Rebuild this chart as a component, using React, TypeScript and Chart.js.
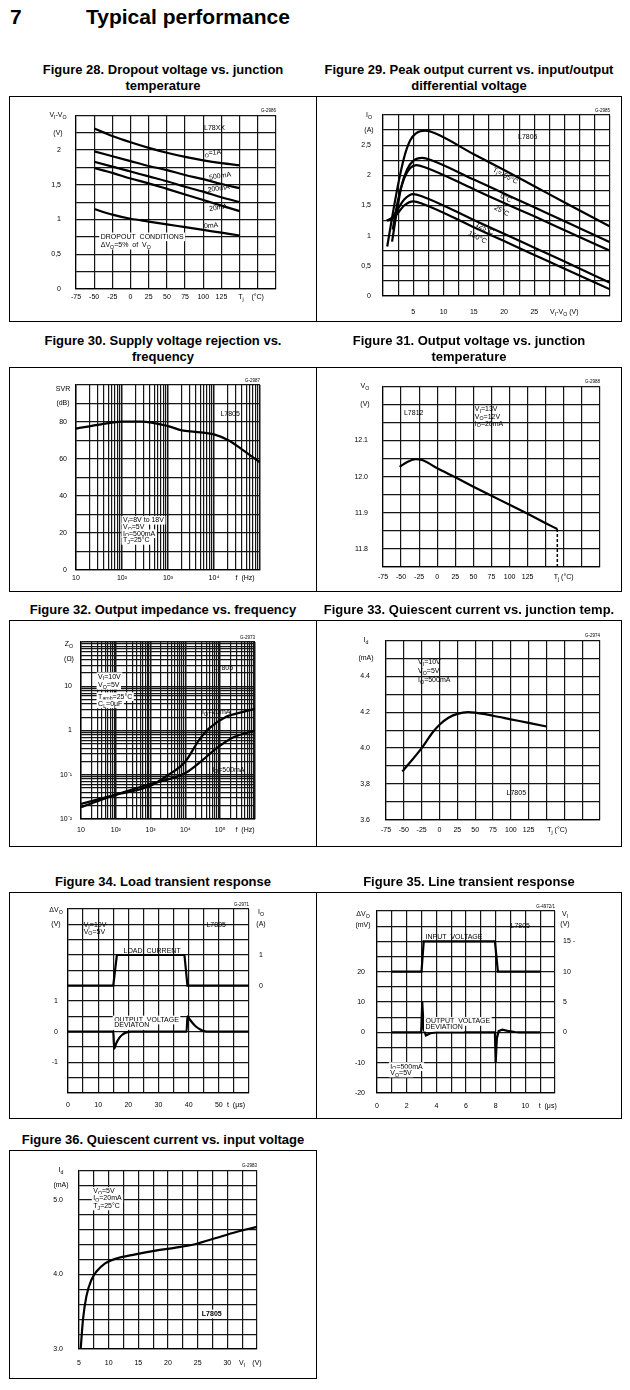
import React, { useEffect, useRef } from 'react';
import { Chart, registerables } from 'chart.js';

Chart.register(...registerables);

const TEXT_FONT = "'Liberation Sans', Arial, Helvetica, sans-serif";
const FS = 7;

// ---------------- Figure 28: dropout voltage vs junction temperature ----------------
const fig28Temp = [-50, -25, 0, 25, 50, 75, 100, 125, 150];
const fig28Io1A = [2.31, 2.2, 2.11, 2.03, 1.96, 1.9, 1.85, 1.81, 1.78];
const fig28Io500mA = [1.98, 1.91, 1.84, 1.77, 1.71, 1.64, 1.58, 1.51, 1.45];
const fig28Io200mA = [1.83, 1.76, 1.69, 1.62, 1.55, 1.47, 1.4, 1.32, 1.25];
const fig28Io20mA = [1.74, 1.67, 1.59, 1.52, 1.44, 1.36, 1.28, 1.2, 1.12];
const fig28Io0mA = [1.15, 1.07, 1.01, 0.97, 0.93, 0.89, 0.85, 0.81, 0.77];

// ---------------- Figure 29: peak output current ----------------
const fig29Tm55V = [0.7, 1.5, 2.5, 3.5, 4.5, 5.5, 7, 8.5, 15, 20, 25, 30, 37.5];
const fig29Tm55I = [0.82, 1.3, 1.85, 2.3, 2.58, 2.7, 2.74, 2.7, 2.35, 2.09, 1.82, 1.55, 1.15];
const fig29T0V = [1.5, 2.2, 3, 4, 5, 6.5, 8, 15, 20, 25, 30, 37.5];
const fig29T0I = [0.9, 1.35, 1.8, 2.1, 2.24, 2.29, 2.25, 1.93, 1.7, 1.47, 1.24, 0.89];
const fig29T25V = [1.6, 2.5, 3.5, 4.5, 5.5, 7, 15, 20, 25, 30, 37.5];
const fig29T25I = [1.1, 1.6, 1.95, 2.12, 2.17, 2.13, 1.77, 1.54, 1.32, 1.09, 0.75];
const fig29T125V = [0.65, 1.5, 2.5, 3.5, 5, 6.5, 15, 20, 25, 30, 37.5];
const fig29T125I = [1.25, 1.3, 1.45, 1.6, 1.69, 1.65, 1.26, 1.03, 0.8, 0.57, 0.22];
const fig29T150V = [0.65, 1.5, 2.5, 3.5, 5, 6.5, 15, 20, 25, 30, 37.5];
const fig29T150I = [1.25, 1.28, 1.38, 1.5, 1.57, 1.53, 1.14, 0.91, 0.68, 0.45, 0.11];

// ---------------- Figure 30: SVR vs frequency ----------------
const fig30Freq = [10, 35, 100, 265, 1000, 2000, 3900, 10000, 21000, 41000, 100000];
const fig30Svr = [76.4, 78.7, 80.2, 80.2, 77.8, 75.5, 74.7, 73.3, 70, 65.1, 58.2];

// ---------------- Figure 31: output voltage vs temperature ----------------
const fig31Temp = [-52, -40, -30, -20, 0, 25, 50, 75, 100, 125, 150, 166];
const fig31Vo = [12.027, 12.042, 12.048, 12.045, 12.023, 11.998, 11.972, 11.947, 11.922, 11.897, 11.871, 11.855];
const fig31DashTemp = [166, 166];
const fig31DashVo = [11.855, 11.75];

// ---------------- Figure 32: output impedance ----------------
const fig32Freq20mA = [10, 96, 870, 3300, 10000, 24000, 47000, 140000, 430000, 1000000];
const fig32Z20mA = [0.022, 0.035, 0.054, 0.1, 0.2, 0.59, 1.1, 2.0, 2.6, 3.1];
const fig32Freq500mA = [10, 96, 870, 10000, 28000, 83000, 250000, 1000000];
const fig32Z500mA = [0.0185, 0.035, 0.06, 0.11, 0.2, 0.41, 0.71, 1.0];

// ---------------- Figure 33: quiescent current vs temperature ----------------
const fig33Temp = [-52, -25, -10, 0, 12, 25, 40, 50, 75, 100, 125, 150];
const fig33Id = [3.87, 4.0, 4.085, 4.13, 4.167, 4.19, 4.2, 4.197, 4.18, 4.16, 4.14, 4.12];

// ---------------- Figure 34: load transient ----------------
const fig34LoadT = [0, 15, 16.2, 38.6, 39.6, 60];
const fig34LoadI = [0, 0, 1, 1, 0, 0];
const fig34DevT = [0, 15, 15.3, 16, 17, 18, 19, 21, 39.3, 39.6, 40.5, 41.5, 42.5, 43.5, 44.5, 46, 60];
const fig34DevV = [0, 0, -0.55, -0.38, -0.2, -0.1, -0.04, 0, 0, 0.5, 0.38, 0.26, 0.16, 0.09, 0.04, 0, 0];

// ---------------- Figure 35: line transient ----------------
const fig35InT = [1, 3, 3.15, 7.95, 8.15, 11];
const fig35InV = [10, 10, 15, 15, 10, 10];
const fig35DevT = [1, 2.98, 3.05, 3.15, 3.3, 3.6, 4, 7.95, 8.0, 8.08, 8.2, 8.45, 8.8, 9.3, 9.6, 11];
const fig35DevV = [0, 0, 10, 1, -1, -0.3, 0, 0, -10, -2, 0.4, 0.9, 0.5, 0.1, 0, 0];

// ---------------- Figure 36: quiescent current vs input voltage ----------------
const fig36Vi = [5.28, 5.68, 6.25, 7.1, 7.95, 9.4, 11.1, 14.5, 17.9, 21.3, 24.7, 28.1, 31.5, 35];
const fig36Id = [3.0, 3.4, 3.71, 3.93, 4.04, 4.15, 4.21, 4.27, 4.32, 4.36, 4.41, 4.49, 4.57, 4.64];

// ---------------- tick labels ----------------
type Labels = Array<[number, string]>;
const tempLabels: Labels = [[-75, '-75'], [-50, '-50'], [-25, '-25'], [0, '0'], [25, '25'], [50, '50'], [75, '75'], [100, '100'], [125, '125']];
const fig28YLabels: Labels = [[0, '0'], [0.5, '0,5'], [1, '1'], [1.5, '1,5'], [2, '2']];
const fig29XLabels: Labels = [[5, '5'], [10, '10'], [15, '15'], [20, '20'], [25, '25']];
const fig29YLabels: Labels = [[0, '0'], [0.5, '0,5'], [1, '1'], [1.5, '1,5'], [2, '2'], [2.5, '2,5']];
const fig30XLabels: Labels = [[10, '10'], [100, '10²'], [1000, '10³'], [10000, '10⁴']];
const fig30YLabels: Labels = [[0, '0'], [20, '20'], [40, '40'], [60, '60'], [80, '80']];
const fig31YLabels: Labels = [[11.8, '11.8'], [11.9, '11.9'], [12.0, '12.0'], [12.1, '12.1']];
const fig32XLabels: Labels = [[10, '10'], [100, '10²'], [1000, '10³'], [10000, '10⁴'], [100000, '10⁵']];
const fig32YLabels: Labels = [[0.01, '10⁻²'], [0.1, '10⁻¹'], [1, '1'], [10, '10']];
const fig33YLabels: Labels = [[3.6, '3.6'], [3.8, '3,8'], [4.0, '4.0'], [4.2, '4.2'], [4.4, '4.4']];
const fig34XLabels: Labels = [[0, '0'], [10, '10'], [20, '20'], [30, '30'], [40, '40'], [50, '50']];
const fig34YLabels: Labels = [[-1, '-1'], [0, '0'], [1, '1']];
const fig34Y2Labels: Labels = [[0, '0'], [1, '1']];
const fig35XLabels: Labels = [[0, '0'], [2, '2'], [4, '4'], [6, '6'], [8, '8'], [10, '10']];
const fig35YLabels: Labels = [[-20, '-20'], [-10, '-10'], [0, '0'], [10, '10'], [20, '20']];
const fig35Y2Labels: Labels = [[0, '0'], [5, '5'], [10, '10'], [15, '15 -']];
const fig36XLabels: Labels = [[5, '5'], [10, '10'], [15, '15'], [20, '20'], [25, '25'], [30, '30']];
const fig36YLabels: Labels = [[3, '3.0'], [4, '4.0'], [5, '5.0']];

// ---------------- types ----------------
type Axis = { type: 'linear' | 'logarithmic'; min: number; max: number; step?: number; labels: Labels; pad: number };
type Series = { x: number[]; y: number[]; axis?: 'y' | 'y2'; smooth?: boolean; dash?: number[]; width?: number };
type Note = {
  text: string; x?: number; y?: number; ax?: 'l' | 'r'; ay?: 'b' | 't'; dx?: number; dy?: number;
  align?: 'left' | 'center' | 'right'; rot?: number; bg?: boolean; bold?: boolean; size?: number; axis?: 'y' | 'y2';
};
type Spec = {
  caption: string[]; left: number; top: number; width: number; height: number;
  plot: [number, number, number, number];
  x: Axis; y: Axis; y2?: Axis; series: Series[]; notes: Note[]; code: string;
};

// ---------------- annotations ----------------
const fig28Notes: Note[] = [
  { text: 'V_I-V_O', ax: 'l', dx: -18, y: 2.5 },
  { text: '(V)', ax: 'l', dx: -18, y: 2.25 },
  { text: 'T_j    (°C)', x: 148, ay: 'b', dy: 8, align: 'left' },
  { text: 'L78XX', x: 101, y: 2.32, align: 'left' },
  { text: 'I_O=1A', x: 99, y: 1.94, align: 'left', rot: -0.12 },
  { text: '500mA', x: 108, y: 1.6, align: 'left', rot: -0.15 },
  { text: '200mA', x: 106, y: 1.42, align: 'left', rot: -0.15 },
  { text: '20mA', x: 108, y: 1.15, align: 'left', rot: -0.15 },
  { text: '0mA', x: 101, y: 0.9, align: 'left', rot: -0.1 },
  { text: 'DROPOUT  CONDITIONS', x: -41, y: 0.75, align: 'left', bg: true },
  { text: 'ΔV_O=5%  of  V_O', x: -41, y: 0.63, align: 'left', bg: true },
];
const fig29Notes: Note[] = [
  { text: 'I_O', ax: 'l', dx: -14, y: 3.0 },
  { text: '(A)', ax: 'l', dx: -14, y: 2.75 },
  { text: 'V_I-V_O (V)', x: 27.6, ay: 'b', dy: 16, align: 'left' },
  { text: 'L7805', x: 22.3, y: 2.64, align: 'left' },
  { text: 'T_j=-55°C', x: 20.2, y: 1.99, rot: 0.48 },
  { text: '0°C', x: 20.3, y: 1.62, rot: 0.48 },
  { text: '25°C', x: 19.6, y: 1.41, rot: 0.48 },
  { text: '125°C', x: 16.8, y: 1.12, rot: 0.48 },
  { text: '150°C', x: 15.6, y: 0.97, rot: 0.48 },
];
const fig30Notes: Note[] = [
  { text: 'SVR', ax: 'l', dx: -13, y: 98 },
  { text: '(dB)', ax: 'l', dx: -13, y: 90 },
  { text: 'f  (Hz)', x: 29500, ay: 'b', dy: 8, align: 'left' },
  { text: 'L7805', x: 13800, y: 84.5, align: 'left' },
  { text: 'V_I=8V to 18V', x: 105, y: 26.9, align: 'left', bg: true },
  { text: 'V_O=5V', x: 105, y: 23.3, align: 'left', bg: true },
  { text: 'I_O=500mA', x: 105, y: 19.6, align: 'left', bg: true },
  { text: 'T_J=25°C', x: 105, y: 16, align: 'left', bg: true },
];
const fig31Notes: Note[] = [
  { text: 'V_O', ax: 'l', dx: -18, y: 12.25 },
  { text: '(V)', ax: 'l', dx: -18, y: 12.2 },
  { text: 'T_j (°C)', x: 161, ay: 'b', dy: 10, align: 'left' },
  { text: 'L7812', x: -46, y: 12.175, align: 'left' },
  { text: 'V_I=13V', x: 52, y: 12.186, align: 'left' },
  { text: 'V_O=12V', x: 52, y: 12.166, align: 'left' },
  { text: 'I_O=20mA', x: 52, y: 12.146, align: 'left' },
];
const fig32Notes: Note[] = [
  { text: 'Z_O', ax: 'l', dx: -12, y: 90 },
  { text: '(Ω)', ax: 'l', dx: -12, y: 42 },
  { text: 'f  (Hz)', x: 275000, ay: 'b', dy: 11, align: 'left' },
  { text: 'L7805', x: 65000, y: 26, align: 'left' },
  { text: 'I_O=20mA', x: 30000, y: 2.6, align: 'left' },
  { text: 'I_O=500mA', x: 59000, y: 0.13, align: 'left' },
  { text: 'V_I=10V', x: 31, y: 16.4, align: 'left', bg: true },
  { text: 'V_O=5V', x: 31, y: 10.5, align: 'left', bg: true },
  { text: 'T_{amb}=25°C', x: 31, y: 5.8, align: 'left', bg: true },
  { text: 'C_L=0μF', x: 31, y: 4, align: 'left', bg: true },
];
const fig33Notes: Note[] = [
  { text: 'I_d', ax: 'l', dx: -20, y: 4.6 },
  { text: '(mA)', ax: 'l', dx: -20, y: 4.5 },
  { text: 'T_j (°C)', x: 151, ay: 'b', dy: 10, align: 'left' },
  { text: 'V_I=10V', x: -30, y: 4.479, align: 'left' },
  { text: 'V_O=5V', x: -30, y: 4.429, align: 'left' },
  { text: 'I_O=500mA', x: -30, y: 4.378, align: 'left' },
  { text: 'L7805', x: 94, y: 3.75, align: 'left' },
];
const fig34Notes: Note[] = [
  { text: 'ΔV_O', ax: 'l', dx: -12, y: 3.95 },
  { text: '(V)', ax: 'l', dx: -12, y: 3.5 },
  { text: 'I_O', ax: 'r', dx: 12, y: 2.4, axis: 'y2' },
  { text: '(A)', ax: 'r', dx: 12, y: 2, axis: 'y2' },
  { text: 't  (μs)', x: 52.7, ay: 'b', dy: 12, align: 'left' },
  { text: 'V_I=10V', x: 5.2, y: 3.46, align: 'left' },
  { text: 'V_O=5V', x: 5.2, y: 3.26, align: 'left' },
  { text: 'L7805', x: 45.9, y: 3.46, align: 'left' },
  { text: 'LOAD  CURRENT', x: 18.4, y: 2.64, align: 'left' },
  { text: 'OUTPUT  VOLTAGE', x: 15.3, y: 0.38, align: 'left', bg: true },
  { text: 'DEVIATON', x: 15.3, y: 0.2, align: 'left', bg: true },
];
const fig35Notes: Note[] = [
  { text: 'ΔV_O', ax: 'l', dx: -14, y: 39 },
  { text: '(mV)', ax: 'l', dx: -14, y: 35.5 },
  { text: 'V_I', ax: 'r', dx: 10, y: 19.5, axis: 'y2' },
  { text: '(V)', ax: 'r', dx: 10, y: 17.8, axis: 'y2' },
  { text: 't  (μs)', x: 10.9, ay: 'b', dy: 13, align: 'left' },
  { text: 'INPUT  VOLTAGE', x: 3.27, y: 31.4, align: 'left' },
  { text: 'L7805', x: 9.0, y: 35, align: 'left' },
  { text: 'OUTPUT  VOLTAGE', x: 3.27, y: 3.6, align: 'left', bg: true },
  { text: 'DEVIATION', x: 3.27, y: 1.7, align: 'left', bg: true },
  { text: 'I_O=500mA', x: 0.9, y: -11.3, align: 'left', bg: true },
  { text: 'V_O=5V', x: 0.9, y: -13.4, align: 'left', bg: true },
];
const fig36Notes: Note[] = [
  { text: 'I_d', ax: 'l', dx: -18, y: 5.4 },
  { text: '(mA)', ax: 'l', dx: -18, y: 5.2 },
  { text: 'V_I', x: 32.5, ay: 'b', dy: 14 },
  { text: '(V)', x: 35, ay: 'b', dy: 14 },
  { text: 'V_O=5V', x: 7.4, y: 5.116, align: 'left', bg: true },
  { text: 'I_O=20mA', x: 7.4, y: 5.02, align: 'left', bg: true },
  { text: 'T_J=25°C', x: 7.4, y: 4.92, align: 'left', bg: true },
  { text: 'L7805', x: 25.7, y: 3.47, align: 'left', bg: true, bold: true },
];

// ---------------- panel specs ----------------
const L = { left: 9, width: 308 };
const R = { left: 316, width: 306 };

const specs: Spec[] = [
  {
    caption: ['Figure 28. Dropout voltage vs. junction', 'temperature'], ...L, top: 96, height: 226,
    plot: [67, 16, 267, 193],
    x: { type: 'linear', min: -75, max: 200, step: 25, labels: tempLabels, pad: 4 },
    y: { type: 'linear', min: 0, max: 2.5, step: 0.25, labels: fig28YLabels, pad: 15 },
    series: [
      { x: fig28Temp, y: fig28Io1A, smooth: true },
      { x: fig28Temp, y: fig28Io500mA, smooth: true },
      { x: fig28Temp, y: fig28Io200mA, smooth: true },
      { x: fig28Temp, y: fig28Io20mA, smooth: true },
      { x: fig28Temp, y: fig28Io0mA, smooth: true },
    ],
    notes: fig28Notes, code: 'G-2986',
  },
  {
    caption: ['Figure 29. Peak output current vs. input/output', 'differential voltage'], ...R, top: 96, height: 226,
    plot: [67, 19, 297, 200],
    x: { type: 'linear', min: 0, max: 37.5, step: 2.5, labels: fig29XLabels, pad: 12 },
    y: { type: 'linear', min: 0, max: 3, step: 0.25, labels: fig29YLabels, pad: 12 },
    series: [
      { x: fig29Tm55V, y: fig29Tm55I, smooth: true },
      { x: fig29T0V, y: fig29T0I, smooth: true },
      { x: fig29T25V, y: fig29T25I, smooth: true },
      { x: fig29T125V, y: fig29T125I, smooth: true },
      { x: fig29T150V, y: fig29T150I, smooth: true },
    ],
    notes: fig29Notes, code: 'G-2985',
  },
  {
    caption: ['Figure 30. Supply voltage rejection vs.', 'frequency'], ...L, top: 367, height: 225,
    plot: [67, 18, 251, 203],
    x: { type: 'logarithmic', min: 10, max: 100000, labels: fig30XLabels, pad: 4 },
    y: { type: 'linear', min: 0, max: 100, step: 10, labels: fig30YLabels, pad: 9 },
    series: [{ x: fig30Freq, y: fig30Svr, smooth: true }],
    notes: fig30Notes, code: 'G-2987',
  },
  {
    caption: ['Figure 31. Output voltage vs. junction', 'temperature'], ...R, top: 367, height: 225,
    plot: [67, 17, 284, 200],
    x: { type: 'linear', min: -75, max: 225, step: 25, labels: tempLabels, pad: 6 },
    y: { type: 'linear', min: 11.75, max: 12.25, step: 0.05, labels: fig31YLabels, pad: 15 },
    series: [
      { x: fig31Temp, y: fig31Vo, smooth: true },
      { x: fig31DashTemp, y: fig31DashVo, dash: [3, 2], width: 1.5 },
    ],
    notes: fig31Notes, code: 'G-2988',
  },
  {
    caption: ['Figure 32. Output impedance vs. frequency'], ...L, top: 620, height: 227,
    plot: [72, 22, 246, 199],
    x: { type: 'logarithmic', min: 10, max: 1000000, labels: fig32XLabels, pad: 7 },
    y: { type: 'logarithmic', min: 0.01, max: 100, labels: fig32YLabels, pad: 9 },
    series: [
      { x: fig32Freq20mA, y: fig32Z20mA, smooth: true },
      { x: fig32Freq500mA, y: fig32Z500mA, smooth: true },
    ],
    notes: fig32Notes, code: 'G-2973',
  },
  {
    caption: ['Figure 33. Quiescent current vs. junction temp.'], ...R, top: 620, height: 227,
    plot: [70, 17, 284, 200],
    x: { type: 'linear', min: -75, max: 225, step: 25, labels: tempLabels, pad: 6 },
    y: { type: 'linear', min: 3.6, max: 4.6, step: 0.1, labels: fig33YLabels, pad: 16 },
    series: [{ x: fig33Temp, y: fig33Id, smooth: true }],
    notes: fig33Notes, code: 'G-2974',
  },
  {
    caption: ['Figure 34. Load transient response'], ...L, top: 892, height: 227,
    plot: [59, 17, 240, 201],
    x: { type: 'linear', min: 0, max: 60, step: 5, labels: fig34XLabels, pad: 8 },
    y: { type: 'linear', min: -2, max: 4, step: 0.5, labels: fig34YLabels, pad: 10 },
    y2: { type: 'linear', min: -3.5, max: 2.5, step: 0.5, labels: fig34Y2Labels, pad: 10 },
    series: [
      { x: fig34LoadT, y: fig34LoadI, axis: 'y2' },
      { x: fig34DevT, y: fig34DevV, smooth: true },
    ],
    notes: fig34Notes, code: 'G-2971',
  },
  {
    caption: ['Figure 35. Line transient response'], ...R, top: 892, height: 227,
    plot: [61, 19, 239, 201],
    x: { type: 'linear', min: 0, max: 12, step: 1, labels: fig35XLabels, pad: 9 },
    y: { type: 'linear', min: -20, max: 40, step: 5, labels: fig35YLabels, pad: 12 },
    y2: { type: 'linear', min: -10, max: 20, step: 5, labels: fig35Y2Labels, pad: 8 },
    series: [
      { x: fig35InT, y: fig35InV, axis: 'y2' },
      { x: fig35DevT, y: fig35DevV },
    ],
    notes: fig35Notes, code: 'G-4972/1',
  },
  {
    caption: ['Figure 36. Quiescent current vs. input voltage'], ...L, top: 1150, height: 229,
    plot: [70, 16, 248, 199],
    x: { type: 'linear', min: 5, max: 35, step: 2.5, labels: fig36XLabels, pad: 10 },
    y: { type: 'linear', min: 3, max: 5.4, step: 0.2, labels: fig36YLabels, pad: 16 },
    series: [{ x: fig36Vi, y: fig36Id, smooth: true }],
    notes: fig36Notes, code: 'G-2983',
  },
];

// ---------------- helpers ----------------
function gridValues(a: Axis): number[] {
  const out: number[] = [];
  if (a.type === 'logarithmic') {
    const e0 = Math.floor(Math.log10(a.min));
    const e1 = Math.ceil(Math.log10(a.max));
    for (let e = e0; e <= e1; e++) {
      for (let m = 1; m < 10; m++) {
        const v = Number((m * Math.pow(10, e)).toPrecision(6));
        if (v >= a.min * 0.9999 && v <= a.max * 1.0001) out.push(v);
      }
    }
  } else {
    const n = Math.round((a.max - a.min) / (a.step || 1));
    for (let i = 0; i <= n; i++) out.push(Number((a.min + i * (a.step || 1)).toFixed(6)));
  }
  return out;
}

function labelFor(labels: Labels, v: number): string {
  for (const [k, s] of labels) if (Math.abs(k - v) <= 1e-6 * Math.max(1, Math.abs(k))) return s;
  return '';
}

function isDecade(v: number) {
  const l = Math.log10(v);
  return Math.abs(l - Math.round(l)) < 1e-6;
}

type Seg = { t: string; k: number };
function parseRich(s: string): Seg[] {
  const segs: Seg[] = [];
  let cur = '';
  let i = 0;
  while (i < s.length) {
    const c = s[i];
    if ((c === '_' || c === '^') && i + 1 < s.length) {
      if (cur) { segs.push({ t: cur, k: 0 }); cur = ''; }
      const k = c === '_' ? 1 : 2;
      if (s[i + 1] === '{') {
        const j = s.indexOf('}', i + 2);
        segs.push({ t: s.slice(i + 2, j), k });
        i = j + 1;
      } else {
        segs.push({ t: s[i + 1], k });
        i += 2;
      }
      continue;
    }
    cur += c;
    i++;
  }
  if (cur) segs.push({ t: cur, k: 0 });
  return segs;
}

function fontFor(k: number, size: number, bold: boolean) {
  return `${bold ? 'bold ' : ''}${k ? size * 0.75 : size}px ${TEXT_FONT}`;
}

function measureRich(ctx: CanvasRenderingContext2D, text: string, size: number, bold: boolean) {
  let w = 0;
  for (const s of parseRich(text)) { ctx.font = fontFor(s.k, size, bold); w += ctx.measureText(s.t).width; }
  return w;
}

function drawRich(ctx: CanvasRenderingContext2D, text: string, x: number, y: number, size: number, bold: boolean) {
  let cx = x;
  ctx.textAlign = 'left';
  ctx.textBaseline = 'middle';
  for (const s of parseRich(text)) {
    ctx.font = fontFor(s.k, size, bold);
    const oy = s.k === 1 ? size * 0.32 : s.k === 2 ? -size * 0.35 : 0;
    ctx.fillText(s.t, cx, y + oy);
    cx += ctx.measureText(s.t).width;
  }
}

function makeNotesPlugin(spec: Spec) {
  return {
    id: 'notes',
    afterDatasetsDraw(chart: any) {
      const ctx = chart.ctx as CanvasRenderingContext2D;
      const area = chart.chartArea;
      ctx.save();
      for (const n of spec.notes) {
        const ys = chart.scales[n.axis ?? 'y'];
        const px = n.x !== undefined ? chart.scales.x.getPixelForValue(n.x) : n.ax === 'r' ? area.right : area.left;
        const py = n.y !== undefined ? ys.getPixelForValue(n.y) : n.ay === 't' ? area.top : area.bottom;
        const size = n.size ?? FS;
        const bold = !!n.bold;
        ctx.save();
        ctx.translate(px + (n.dx ?? 0), py + (n.dy ?? 0));
        if (n.rot) ctx.rotate(n.rot);
        const w = measureRich(ctx, n.text, size, bold);
        const x0 = n.align === 'left' ? 0 : n.align === 'right' ? -w : -w / 2;
        if (n.bg) {
          ctx.fillStyle = '#fff';
          ctx.fillRect(x0 - 1.5, -size * 0.62, w + 3, size * 1.24);
        }
        ctx.fillStyle = '#000';
        drawRich(ctx, n.text, x0, 0, size, bold);
        ctx.restore();
      }
      ctx.fillStyle = '#000';
      ctx.font = `4.5px ${TEXT_FONT}`;
      ctx.textAlign = 'right';
      ctx.textBaseline = 'bottom';
      ctx.fillText(spec.code, area.right, area.top - 2);
      ctx.restore();
    },
  };
}

function axisOptions(a: Axis, position: string, size: number, isX: boolean, onChart: boolean) {
  const values = gridValues(a);
  const log = a.type === 'logarithmic';
  return {
    type: a.type,
    position,
    min: a.min,
    max: a.max,
    afterBuildTicks: (s: any) => { s.ticks = values.map((v) => ({ value: v })); },
    afterFit: (s: any) => { if (isX) s.height = size; else s.width = size; },
    grid: {
      display: onChart,
      drawOnChartArea: onChart,
      drawTicks: false,
      color: '#151515',
      lineWidth: (c: any) => (log && c.tick && isDecade(c.tick.value) ? 1.5 : 1.2),
    },
    border: { display: onChart, color: '#000', width: 1.2 },
    ticks: {
      autoSkip: false,
      maxRotation: 0,
      minRotation: 0,
      padding: a.pad,
      color: '#000',
      font: { family: TEXT_FONT, size: FS },
      callback: (v: any) => labelFor(a.labels, Number(v)),
    },
  };
}

function buildConfig(spec: Spec): any {
  const [l, t, r, b] = spec.plot;
  const scales: any = {
    x: axisOptions(spec.x, 'bottom', spec.height - b, true, true),
    y: axisOptions(spec.y, 'left', l, false, true),
  };
  if (spec.y2) scales.y2 = axisOptions(spec.y2, 'right', spec.width - r, false, false);
  const datasets = spec.series.map((s) => ({
    data: s.x.map((x, i) => ({ x, y: s.y[i] })),
    yAxisID: s.axis ?? 'y',
    showLine: true,
    borderColor: '#000',
    backgroundColor: '#000',
    borderWidth: s.width ?? 2.2,
    borderDash: s.dash ?? [],
    pointRadius: 0,
    fill: false,
    tension: 0,
    cubicInterpolationMode: s.smooth ? 'monotone' : 'default',
  }));
  return {
    type: 'scatter',
    data: { datasets },
    options: {
      animation: false,
      responsive: false,
      maintainAspectRatio: false,
      events: [],
      layout: { padding: { top: t, left: 0, bottom: 0, right: spec.y2 ? 0 : spec.width - r } },
      plugins: { legend: { display: false }, tooltip: { enabled: false }, title: { display: false } },
      scales,
    },
    plugins: [makeNotesPlugin(spec)],
  };
}

function Panel({ spec }: { spec: Spec }) {
  const ref = useRef<HTMLCanvasElement | null>(null);
  useEffect(() => {
    if (!ref.current) return;
    const chart = new Chart(ref.current, buildConfig(spec));
    return () => chart.destroy();
  }, [spec]);
  const capTop = spec.top - 2 - 16 * spec.caption.length;
  return (
    <>
      <div
        style={{
          position: 'absolute', left: spec.left, top: capTop, width: spec.width, textAlign: 'center',
          font: `bold 13px/16px ${TEXT_FONT}`, color: '#000', whiteSpace: 'nowrap',
        }}
      >
        {spec.caption.map((c, i) => (<div key={i}>{c}</div>))}
      </div>
      <canvas
        ref={ref}
        width={spec.width}
        height={spec.height}
        style={{ position: 'absolute', left: spec.left, top: spec.top, width: spec.width, height: spec.height }}
      />
      <div
        style={{
          position: 'absolute', left: spec.left, top: spec.top, width: spec.width, height: spec.height,
          border: '1px solid #000', boxSizing: 'border-box', pointerEvents: 'none',
        }}
      />
    </>
  );
}

export default function App() {
  return (
    <div style={{ position: 'absolute', left: 0, top: 0, width: 630, height: 1390, background: '#fff', overflow: 'hidden' }}>
      <div style={{ position: 'absolute', left: 10, top: 5, font: `bold 21px ${TEXT_FONT}`, color: '#000' }}>7</div>
      <div style={{ position: 'absolute', left: 86, top: 5, font: `bold 21px ${TEXT_FONT}`, color: '#000' }}>Typical performance</div>
      {specs.map((s, i) => (<Panel key={i} spec={s} />))}
    </div>
  );
}
